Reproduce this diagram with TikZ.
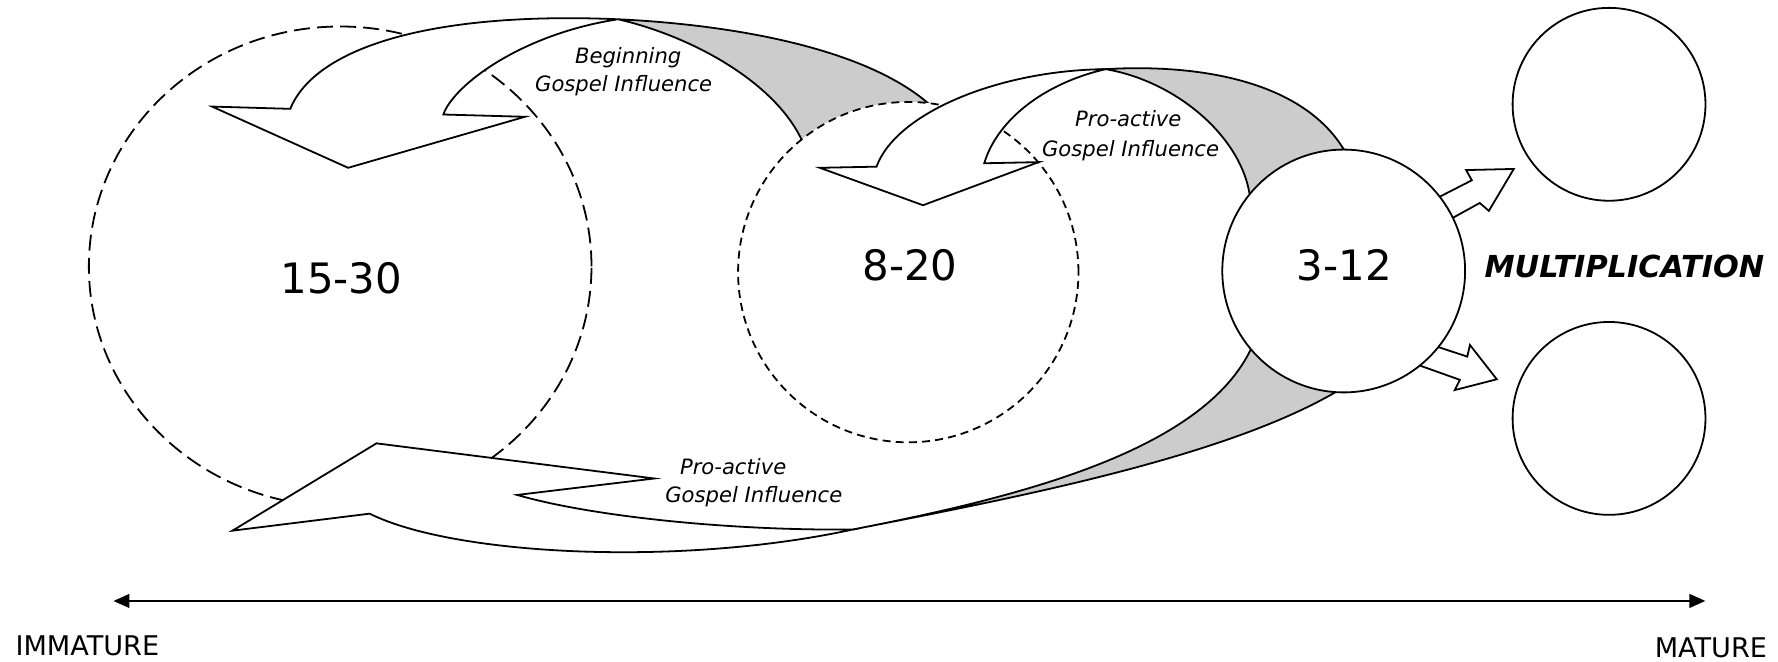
\documentclass[tikz,border=0pt]{standalone}
\usepackage{fontspec}
\setmainfont{DejaVu Sans}
\usetikzlibrary{arrows.meta,shapes.geometric}
\definecolor{tailgray}{RGB}{204,204,204}
\begin{document}
\begin{tikzpicture}[x=0.01cm,y=-0.01cm,
  outl/.style={draw=black,line width=0.45pt,line join=miter},
  face/.style={outl,fill=white},
  tail/.style={outl,fill=tailgray},
  bigdash/.style={draw=black,line width=0.45pt,dash pattern=on 4pt off 1.8pt},
  smalldash/.style={draw=black,line width=0.45pt,dash pattern=on 2pt off 1.3pt},
  num/.style={font=\fontsize{10.5}{12}\selectfont,inner sep=0pt,anchor=base},
  lab/.style={font=\fontsize{5.3}{6.5}\selectfont\itshape,inner sep=0pt,anchor=base},
  ring/.style={circle,draw=black,line width=0.45pt,fill=white,inner sep=0pt}
]
\useasboundingbox (0,0) rectangle (1568,583);

% large dashed group
\node[ellipse,bigdash,minimum width=4.43cm,minimum height=4.23cm,inner sep=0pt] (e1) at (300,235) {};

% arrow 1 : Beginning Gospel Influence
\path[face] (256,96) -- (187,94) -- (307,148) -- (463,103) -- (391,101)
  .. controls (400,75) and (460,30) .. (545,17)
  .. controls (380,10) and (278,42) .. (256,96) -- cycle;
\path[tail] (545,17) .. controls (650,22) and (790,45) .. (838,112)
  -- (713,140) .. controls (698,80) and (615,33) .. (545,17) -- cycle;

% middle dashed group
\node[circle,smalldash,fill=white,minimum size=3cm,inner sep=0pt] (e2) at (801,240) {};

% arrow 2 : Pro-active (top)
\path[face] (773,147) -- (723,148) -- (814,181) -- (916,143) -- (868,144)
  .. controls (878,110) and (915,75) .. (975,61)
  .. controls (880,62) and (790,100) .. (773,147) -- cycle;
\path[tail] (975,61) .. controls (1060,56) and (1160,72) .. (1192,145)
  -- (1103,180) .. controls (1100,125) and (1040,72) .. (975,61) -- cycle;

% arrow 3 : Pro-active (bottom)
\path[face] (326,453) -- (205,468) -- (332,391) -- (577,422) -- (456,436.5)
  .. controls (520,455) and (640,468) .. (752,467)
  .. controls (600,500) and (400,490) .. (326,453) -- cycle;
\path[tail] (752,467) .. controls (900,438) and (1100,400) .. (1195,335)
  -- (1110,290) .. controls (1080,395) and (900,438) .. (752,467) -- cycle;

% multiplication arrows
\path[face] (1255,181) -- (1298,159) -- (1293,150) -- (1335,149) -- (1313,186) -- (1305,179) -- (1267,200) -- cycle;
\path[face] (1253,301) -- (1294,314.5) -- (1296.3,304.2) -- (1320,334.5) -- (1283,344) -- (1287.5,335) -- (1237,317) -- cycle;

% small group and new groups
\node[ring,minimum size=2.14cm] (c3) at (1185,239) {};
\node[ring,minimum size=1.7cm] (m1) at (1419,92) {};
\node[ring,minimum size=1.7cm] (m2) at (1419,369) {};

% texts
\node[num] (t1530) at (301,259) {15-30};
\node[num] (t820) at (802.5,247) {8-20};
\node[num] (t312) at (1185.5,247) {3-12};
\node[font=\fontsize{7.6}{9}\selectfont\bfseries\itshape,inner sep=0pt,anchor=base] (mult) at (1432.5,245) {MULTIPLICATION};
\node[lab] (l1a) at (554,56.4) {Beginning};
\node[lab] (l1b) at (550,80.8) {Gospel Influence};
\node[lab] (l2a) at (995,112) {Pro-active};
\node[lab] (l2b) at (997,137.6) {Gospel Influence};
\node[lab,anchor=base west] (l3a) at (599,418.9) {Pro-active};
\node[lab,anchor=base west] (l3b) at (586,443.3) {Gospel Influence};
\node[font=\fontsize{6.8}{8}\selectfont,inner sep=0pt,anchor=base west] (imm) at (13,578) {IMMATURE};
\node[font=\fontsize{6.8}{8}\selectfont,inner sep=0pt,anchor=base east] (mat) at (1559,580) {MATURE};

% maturity axis
\coordinate (axl) at (100,530);
\coordinate (axr) at (1504,530);
\draw[line width=0.6pt,{Triangle[length=4pt,width=3.4pt]}-{Triangle[length=4pt,width=3.4pt]}] (axl) -- (axr);
\end{tikzpicture}
\end{document}
